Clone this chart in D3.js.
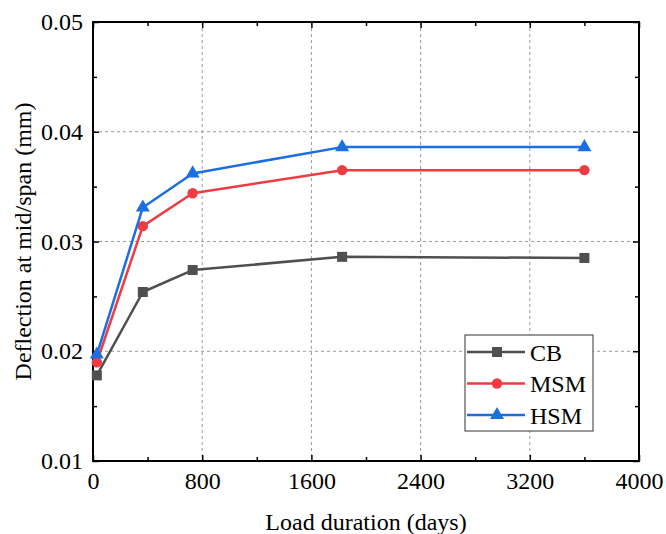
<!DOCTYPE html>
<html><head><meta charset="utf-8">
<script src="https://cdn.jsdelivr.net/npm/d3@7"></script>
<style>body{margin:0;background:#fff}svg{display:block}</style>
</head><body><svg id="c" width="666" height="534"></svg>
<script>
const days = [28, 365, 730, 1825, 3600];
const cbValues = [0.0178, 0.0254, 0.0274, 0.0286, 0.0285];
const msmValues = [0.0190, 0.0314, 0.0344, 0.0365, 0.0365];
const hsmValues = [0.0197, 0.0331, 0.0362, 0.0386, 0.0386];
const seriesNames = ["CB", "MSM", "HSM"];
const xTicks = [0, 800, 1600, 2400, 3200, 4000];
const yTicks = [0.01, 0.02, 0.03, 0.04, 0.05];
const xTitle = "Load duration (days)";
const yTitle = "Deflection at mid/span (mm)";

const series = [
  {name: seriesNames[0], values: cbValues, color: "#4f4f4f", shape: d3.symbolSquare, size: 100},
  {name: seriesNames[1], values: msmValues, color: "#ef3b42", shape: d3.symbolCircle, size: 85},
  {name: seriesNames[2], values: hsmValues, color: "#1b6fe0", shape: d3.symbolTriangle, size: 85}
];

const SERIF = "Liberation Serif";
const FS = "24px";
const L = 93, R = 639, T = 22, B = 461;
const svg = d3.select("#c");
const x = d3.scaleLinear().domain([0, 4000]).range([L, R]);
const y = d3.scaleLinear().domain([0.01, 0.05]).range([B, T]);

// grid
const g = svg.append("g");
xTicks.slice(1, -1).forEach(v => g.append("line").attr("x1", x(v)).attr("x2", x(v)).attr("y1", T).attr("y2", B)
  .attr("stroke", "#999").attr("stroke-width", 1).attr("stroke-dasharray", "3,3"));
yTicks.slice(1, -1).forEach(v => g.append("line").attr("x1", L).attr("x2", R).attr("y1", y(v)).attr("y2", y(v))
  .attr("stroke", "#999").attr("stroke-width", 1).attr("stroke-dasharray", "3,3"));

// axes
const fmtY = d3.format(".2f");
const axBottom = d3.axisBottom(x).tickValues(xTicks).tickSize(-6).tickPadding(11).tickFormat(d3.format("d"));
const axLeft = d3.axisLeft(y).tickValues(yTicks).tickSize(-6).tickPadding(10).tickFormat(fmtY);
const axTop = d3.axisTop(x).tickValues(xTicks).tickSize(-6).tickFormat("");
const axRight = d3.axisRight(y).tickValues(yTicks).tickSize(-6).tickFormat("");
const minorX = d3.range(400, 4000, 800);
const minorY = [0.015, 0.025, 0.035, 0.045];

function styleAxis(sel) {
  sel.attr("font-family", SERIF).attr("font-size", FS);
  sel.selectAll(".domain").remove();
  sel.selectAll(".tick line").attr("stroke", "#000").attr("stroke-width", 1.5);
  sel.selectAll("text").style("font-size", FS).style("font-family", SERIF).attr("fill", "#000");
}
svg.append("g").attr("transform", `translate(0,${B})`).call(axBottom).call(styleAxis);
svg.append("g").attr("transform", `translate(${L},0)`).call(axLeft).call(styleAxis);
svg.append("g").attr("transform", `translate(0,${T})`).call(axTop).call(styleAxis);
svg.append("g").attr("transform", `translate(${R},0)`).call(axRight).call(styleAxis);
svg.append("g").attr("transform", `translate(0,${B})`).call(d3.axisBottom(x).tickValues(minorX).tickSize(-4).tickFormat("")).call(styleAxis);
svg.append("g").attr("transform", `translate(0,${T})`).call(d3.axisTop(x).tickValues(minorX).tickSize(-4).tickFormat("")).call(styleAxis);
svg.append("g").attr("transform", `translate(${L},0)`).call(d3.axisLeft(y).tickValues(minorY).tickSize(-4).tickFormat("")).call(styleAxis);
svg.append("g").attr("transform", `translate(${R},0)`).call(d3.axisRight(y).tickValues(minorY).tickSize(-4).tickFormat("")).call(styleAxis);

// frame
svg.append("rect").attr("x", L).attr("y", T).attr("width", R - L).attr("height", B - T)
  .attr("fill", "none").attr("stroke", "#000").attr("stroke-width", 2);

// series
const line = d3.line().x((d, i) => x(days[i])).y(d => y(d));
series.forEach(s => {
  svg.append("path").datum(s.values).attr("d", line).attr("fill", "none")
    .attr("stroke", s.color).attr("stroke-width", 2.5).attr("stroke-linejoin", "round");
  svg.selectAll(null).data(s.values).enter().append("path")
    .attr("d", d3.symbol().type(s.shape).size(s.size))
    .attr("transform", (d, i) => `translate(${x(days[i])},${y(d)})`)
    .attr("fill", s.color);
});

// legend
const lg = svg.append("g");
lg.append("rect").attr("x", 465).attr("y", 335).attr("width", 128).attr("height", 96)
  .attr("fill", "#fff").attr("stroke", "#333").attr("stroke-width", 1);
series.forEach((s, i) => {
  const yy = 352 + i * 31.5;
  lg.append("line").attr("x1", 467).attr("x2", 525).attr("y1", yy).attr("y2", yy)
    .attr("stroke", s.color).attr("stroke-width", 2.5);
  lg.append("path").attr("d", d3.symbol().type(s.shape).size(s.size))
    .attr("transform", `translate(497,${yy})`).attr("fill", s.color);
  lg.append("text").attr("x", 530).attr("y", yy + 8.5).style("font-size", FS).style("font-family", SERIF).text(s.name);
});

// titles
svg.append("text").attr("x", (L + R) / 2).attr("y", 530).attr("text-anchor", "middle")
  .style("font-size", FS).style("font-family", SERIF).text(xTitle);
svg.append("text").attr("transform", `translate(31,${(T + B) / 2}) rotate(-90)`).attr("text-anchor", "middle")
  .style("font-size", FS).style("font-family", SERIF).text(yTitle);
</script></body></html>
